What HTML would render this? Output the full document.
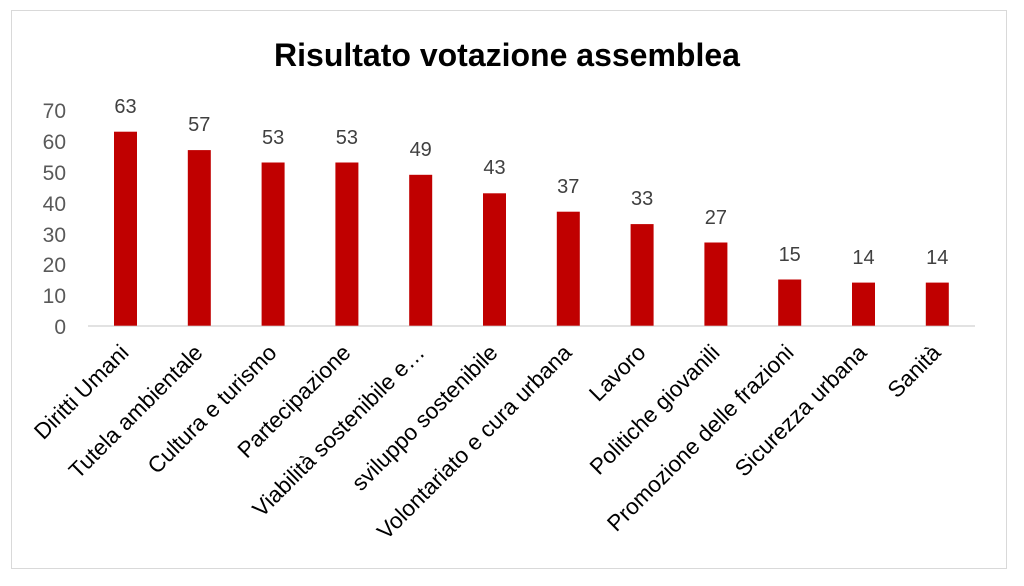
<!DOCTYPE html>
<html><head><style>
body{margin:0;background:#fff;}
svg text{font-family:"Liberation Sans",Calibri,sans-serif;}
</style></head><body>
<svg width="1024" height="581" xmlns="http://www.w3.org/2000/svg">
<rect x="11.5" y="10.5" width="995" height="558" fill="#fff" stroke="#d9d9d9"/>
<text x="507" y="66" text-anchor="middle" font-size="32" font-weight="bold" fill="#000">Risultato votazione assemblea</text>
<g font-size="21" fill="#595959" text-anchor="end">
<text x="66" y="334">0</text><text x="66" y="303">10</text><text x="66" y="272">20</text><text x="66" y="242">30</text><text x="66" y="211">40</text><text x="66" y="180">50</text><text x="66" y="149">60</text><text x="66" y="118">70</text>
</g>
<line x1="88" y1="326" x2="975" y2="326" stroke="#d9d9d9" stroke-width="1.5"/>
<g fill="#c00000">
<rect x="114" y="131.7" width="23" height="194"/>
<rect x="187.8" y="150.1" width="23" height="175.6"/>
<rect x="261.6" y="162.5" width="23" height="163.2"/>
<rect x="335.4" y="162.5" width="23" height="163.2"/>
<rect x="409.2" y="174.8" width="23" height="150.9"/>
<rect x="483" y="193.3" width="23" height="132.4"/>
<rect x="556.8" y="211.7" width="23" height="114"/>
<rect x="630.6" y="224.1" width="23" height="101.6"/>
<rect x="704.4" y="242.5" width="23" height="83.2"/>
<rect x="778.2" y="279.5" width="23" height="46.2"/>
<rect x="852" y="282.6" width="23" height="43.1"/>
<rect x="925.8" y="282.6" width="23" height="43.1"/>
</g>
<g font-size="20" fill="#404040" text-anchor="middle">
<text x="125.5" y="113">63</text>
<text x="199.3" y="131">57</text>
<text x="273.1" y="144">53</text>
<text x="346.9" y="144">53</text>
<text x="420.7" y="156">49</text>
<text x="494.5" y="174">43</text>
<text x="568.3" y="193">37</text>
<text x="642.1" y="205">33</text>
<text x="715.9" y="224">27</text>
<text x="789.7" y="261">15</text>
<text x="863.5" y="264">14</text>
<text x="937.3" y="264">14</text>
</g>
<g font-size="22.5" fill="#000" text-anchor="end">
<text transform="translate(130,354) rotate(-45)">Diritti Umani</text>
<text transform="translate(204,354) rotate(-45)">Tutela ambientale</text>
<text transform="translate(278,354) rotate(-45)">Cultura e turismo</text>
<text transform="translate(352,354) rotate(-45)">Partecipazione</text>
<text transform="translate(426,354) rotate(-45)">Viabilità sostenibile e…</text>
<text transform="translate(499,354) rotate(-45)">sviluppo sostenibile</text>
<text transform="translate(573,354) rotate(-45)">Volontariato e cura urbana</text>
<text transform="translate(647,354) rotate(-45)">Lavoro</text>
<text transform="translate(721,354) rotate(-45)">Politiche giovanili</text>
<text transform="translate(795,354) rotate(-45)">Promozione delle frazioni</text>
<text transform="translate(868,354) rotate(-45)">Sicurezza urbana</text>
<text transform="translate(942,354) rotate(-45)">Sanità</text>
</g>
</svg>
</body></html>
